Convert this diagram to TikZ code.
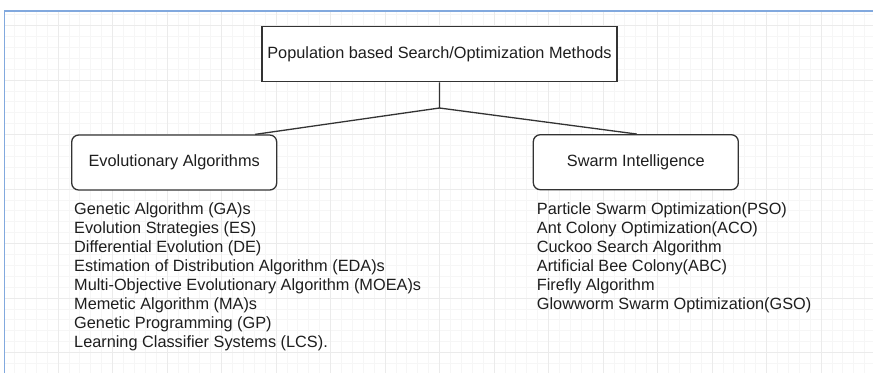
\documentclass[tikz,border=0pt]{standalone}
\usepackage{fontspec}
\setmainfont{Liberation Sans}
\definecolor{minorgrid}{HTML}{F6F6F6}
\definecolor{majorgrid}{HTML}{EBEBEB}
\definecolor{frameblue}{HTML}{82A9DE}
\definecolor{ink}{HTML}{333333}
\definecolor{textink}{HTML}{1E1E1E}
\tikzset{
  labelfont/.style={font=\fontsize{16.3}{19.1}\selectfont, text=textink},
  rootbox/.style={draw=ink, line width=1.3pt, fill=white, labelfont,
    minimum width=355pt, minimum height=55pt, inner sep=0pt},
  groupbox/.style={draw=ink, line width=1.3pt, fill=white, labelfont,
    rounded corners=7pt, minimum width=205pt, minimum height=55pt, inner sep=0pt},
  itemtext/.style={labelfont, anchor=base west, inner sep=0pt},
  link/.style={draw=ink, line width=1.3pt},
}
\begin{document}
\begin{tikzpicture}[x=1pt, y=-1pt]
  \useasboundingbox (0,0) rectangle (873,373);
  \fill[white] (0,0) rectangle (873,373);
  % background grid: fine lines, then every fifth line stronger
  \foreach \k in {-4,...,74}
    \draw[minorgrid, line width=0.8pt] ({58+\k*10.9},11) -- ({58+\k*10.9},373);
  \foreach \k in {-6,...,26}
    \draw[minorgrid, line width=0.8pt] (4.5,{80+\k*10.9}) -- (873,{80+\k*10.9});
  \foreach \k in {0,...,14}
    \draw[majorgrid, line width=0.9pt] ({58+\k*54.5},11) -- ({58+\k*54.5},373);
  \foreach \k in {-1,...,5}
    \draw[majorgrid, line width=0.9pt] (4.5,{80+\k*54.5}) -- (873,{80+\k*54.5});
  % page frame
  \draw[frameblue, line width=1.5pt] (4.5,373) -- (4.5,11) -- (873,11);

  % boxes
  \node[rootbox] (root) at (439.5,54.2) {Population based Search/Optimization Methods};
  \node[groupbox] (evo) at (174.2,162.5) {Evolutionary Algorithms};
  \node[groupbox] (swarm) at (635.8,162.2) {Swarm Intelligence};

  % connectors
  \coordinate (fork) at (439.5,108);
  \draw[link] (root.south) -- (fork) -- ([xshift=81pt]evo.north);
  \draw[link] (fork) -- ([xshift=1pt]swarm.north);

  % member lists
  \foreach \t [count=\i] in {Genetic Algorithm (GA)s,
      Evolution Strategies (ES),
      Differential Evolution (DE),
      Estimation of Distribution Algorithm (EDA)s,
      Multi-Objective Evolutionary Algorithm (MOEA)s,
      Memetic Algorithm (MA)s,
      Genetic Programming (GP),
      Learning Classifier Systems (LCS).}
    \node[itemtext] (evo-\i) at (74,{214+(\i-1)*19.1}) {\t};
  \foreach \t [count=\i] in {Particle Swarm Optimization(PSO),
      Ant Colony Optimization(ACO),
      Cuckoo Search Algorithm,
      Artificial Bee Colony(ABC),
      Firefly Algorithm,
      Glowworm Swarm Optimization(GSO)}
    \node[itemtext] (swarm-\i) at (536.7,{214.2+(\i-1)*19}) {\t};
\end{tikzpicture}
\end{document}
